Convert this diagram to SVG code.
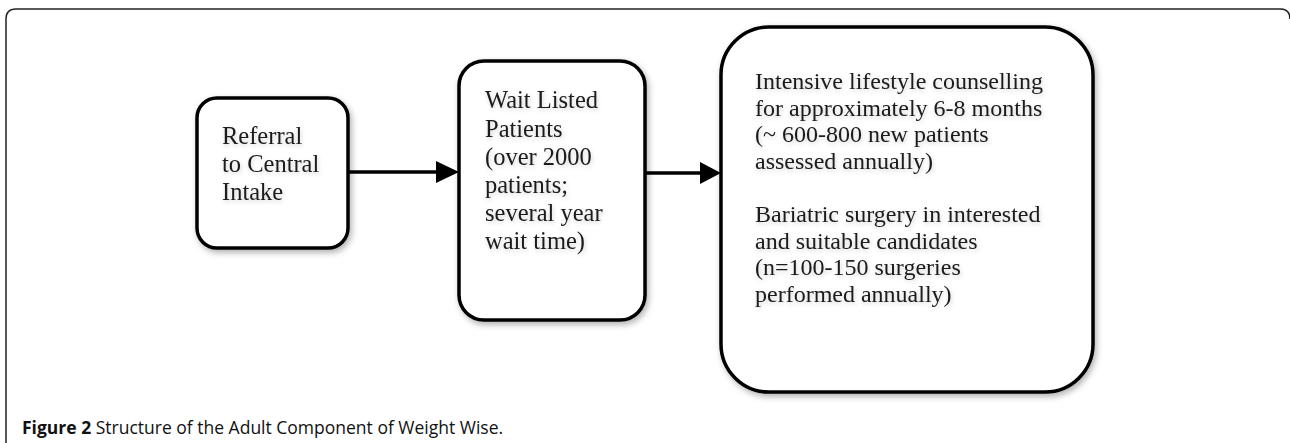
<svg xmlns="http://www.w3.org/2000/svg" width="1290" height="443" viewBox="0 0 1290 443">
<style>
.frame{fill:none;stroke:#222;stroke-width:1.5}
.box{fill:#fff;stroke:#000;stroke-width:3.5;filter:url(#sh)}
.t{font-family:"Liberation Serif","Times New Roman",serif;font-size:24.5px;fill:#1a1a1a;filter:url(#tsh)}
.t3{font-size:24px}
.conn{stroke:#000;stroke-width:3.5;fill:none}
.head{fill:#000}
.cap{font-family:"Open Sans","Liberation Sans",sans-serif;font-size:17.5px;fill:#111}
</style>
<defs>
<filter id="sh" x="-10%" y="-10%" width="125%" height="125%">
<feDropShadow dx="2" dy="3" stdDeviation="3" flood-color="#000" flood-opacity="0.3"/>
</filter>
<filter id="tsh" x="-5%" y="-30%" width="115%" height="170%">
<feDropShadow dx="1" dy="2" stdDeviation="2" flood-color="#000" flood-opacity="0.18"/>
</filter>
</defs>
<path class="frame" d="M6,443 V19 Q6,9 16,9 H1280 Q1290,9 1290,19"/>
<g id="connectors">
<line class="conn" x1="348" y1="172" x2="437" y2="172"/>
<path class="head" d="M436,161 L459,172 L436,183 z"/>
<line class="conn" x1="645" y1="173" x2="701" y2="173"/>
<path class="head" d="M700,162 L721,173 L700,184 z"/>
</g>
<g id="n1">
<rect class="box" x="197" y="98" width="151" height="150" rx="20"/>
<text class="t" x="222" y="144">Referral</text>
<text class="t" x="222" y="172">to Central</text>
<text class="t" x="222" y="200">Intake</text>
</g>
<g id="n2">
<rect class="box" x="459" y="61" width="186" height="259" rx="25"/>
<text class="t" x="485" y="108">Wait Listed</text>
<text class="t" x="485" y="137">Patients</text>
<text class="t" x="485" y="165">(over 2000</text>
<text class="t" x="485" y="193">patients;</text>
<text class="t" x="485" y="221">several year</text>
<text class="t" x="485" y="249">wait time)</text>
</g>
<g id="n3">
<rect class="box" x="721" y="27" width="372" height="365" rx="48"/>
<text class="t t3" x="755" y="89">Intensive lifestyle counselling</text>
<text class="t t3" x="755" y="115.5">for approximately 6-8 months</text>
<text class="t t3" x="755" y="142">(~ 600-800 new patients</text>
<text class="t t3" x="755" y="168.5">assessed annually)</text>
<text class="t t3" x="755" y="222">Bariatric surgery in interested</text>
<text class="t t3" x="755" y="248.5">and suitable candidates</text>
<text class="t t3" x="755" y="275">(n=100-150 surgeries</text>
<text class="t t3" x="755" y="301.5">performed annually)</text>
</g>
<text class="cap" x="22" y="434"><tspan font-weight="bold">Figure 2</tspan> Structure of the Adult Component of Weight Wise.</text>
</svg>
